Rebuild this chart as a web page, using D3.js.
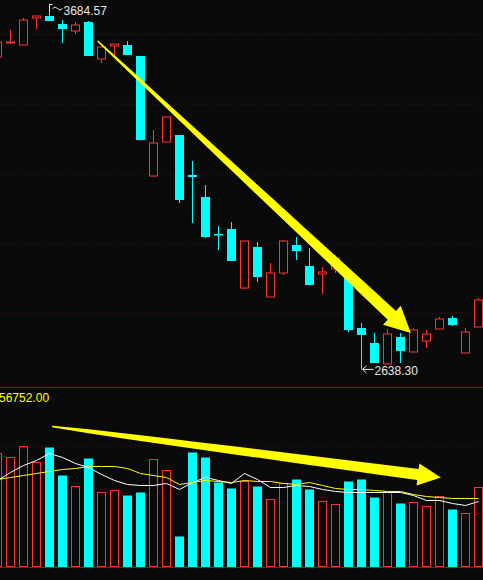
<!DOCTYPE html>
<meta charset="utf-8">
<script src="https://d3js.org/d3.v7.min.js"></script>
<style>
  body { margin: 0; background: #0a0a0a; }
  svg { display: block; }
</style>
<div id="chart"></div>
<script>

// daily bars, left to right
var open  = [3534.0, 3574.2, 3568.5, 3645.9, 3651.6, 3628.7, 3608.6, 3634.4, 3528.3, 3565.6,
             3568.5, 3536.9, 3192.8, 3290.3, 3310.4, 3195.7, 3132.6, 3026.5, 3040.9, 2871.7,
             2989.2, 2845.9, 2914.7, 2995.0, 2934.8, 2911.8, 2926.2, 2900.4, 2757.0, 2714.0,
             2653.8, 2731.2, 2688.2, 2719.7, 2754.1, 2785.7, 2685.3, 2759.9];
var high  = [3582.8, 3611.5, 3645.9, 3651.6, 3684.57, 3640.1, 3634.4, 3637.3, 3562.7, 3571.3,
             3579.9, 3536.9, 3324.7, 3362.0, 3310.4, 3235.8, 3167.0, 3049.5, 3060.9, 3006.5,
             3003.6, 2943.4, 3009.3, 3017.9, 2986.4, 2931.9, 2966.3, 2923.3, 2771.3, 2742.6,
             2754.1, 2742.6, 2757.0, 2751.3, 2788.5, 2791.4, 2757.0, 2843.0];
var low   = [3531.2, 3571.3, 3568.5, 3614.3, 3637.3, 3574.2, 3600.0, 3536.9, 3516.8, 3539.8,
             3539.8, 3296.1, 3190.0, 3290.3, 3115.4, 3058.1, 3015.0, 2980.6, 2949.1, 2868.8,
             2888.9, 2845.9, 2908.9, 2952.0, 2880.3, 2854.5, 2914.7, 2745.5, 2638.30, 2656.6,
             2653.8, 2656.6, 2688.2, 2699.6, 2754.1, 2762.7, 2685.3, 2759.9];
var close = [3577.1, 3577.1, 3640.1, 3651.6, 3637.3, 3614.3, 3625.8, 3536.9, 3562.7, 3571.3,
             3539.8, 3296.1, 3287.5, 3362.0, 3124.0, 3190.0, 3017.9, 3023.7, 2949.1, 3006.5,
             2903.2, 2914.7, 3006.5, 2977.8, 2880.3, 2917.6, 2957.7, 2751.3, 2736.9, 2656.6,
             2739.8, 2691.0, 2751.3, 2739.8, 2782.8, 2765.6, 2745.5, 2837.3];

var volume = [3736, 3603, 3967, 3438, 3934, 3008, 2645, 3570, 2446, 2512,
              2347, 2446, 3537, 3174, 992, 3769, 3603, 2777, 2579, 2810,
              2645, 2215, 2744, 2876, 2546, 2149, 2050, 2810, 2876, 2281,
              2479, 2083, 2116, 1983, 2314, 1884, 1752, 2612];
var volMa5  = [2843, 3108, 3339, 3504, 3736, 3604, 3405, 3273, 3042, 2843,
               2711, 2678, 2678, 2744, 2546, 2777, 2942, 2843, 2744, 3075,
               2876, 2612, 2612, 2678, 2645, 2546, 2480, 2446, 2446, 2446,
               2446, 2446, 2347, 2182, 2182, 2083, 2017, 2149];
var volMa10 = [2876, 2942, 3008, 3075, 3141, 3207, 3240, 3306, 3306, 3306,
               3240, 3075, 3008, 2942, 2711, 2777, 2843, 2810, 2777, 2843,
               2810, 2810, 2744, 2711, 2777, 2678, 2579, 2546, 2546, 2513,
               2480, 2480, 2380, 2314, 2281, 2248, 2248, 2248];

var priceTicks = [2800, 3000, 3200, 3400, 3600];
var volTicks = [4000];
var volTitle = "56752.00";

// hand-drawn trend arrows: [bar index, value]
var priceArrow = [[7.7, 3580.0], [31.8, 2742.6]];
var volArrow   = [[4.2, 4628], [34.1, 2942]];

var width = 483, height = 580;
var bg = "#0a0a0a", up = "#ff3232", down = "#00ffff";

var svg = d3.select("#chart").append("svg")
  .attr("width", width).attr("height", height);

svg.append("rect").attr("width", width).attr("height", height).attr("fill", bg);

var x = d3.scaleLinear().domain([0, 37]).range([-2.5, 478.5]);
var y = d3.scaleLinear().domain([2800, 3600]).range([313, 34]);
var yv = d3.scaleLinear().domain([0, 4000]).range([566.5, 445.5]);

// grid
svg.append("g")
  .call(d3.axisRight(y).tickValues(priceTicks).tickSize(width).tickFormat(""))
  .call(function(g) {
    g.select(".domain").remove();
    g.selectAll("line").attr("stroke", "#461414").attr("stroke-dasharray", "1,2");
  });
svg.append("g")
  .call(d3.axisRight(yv).tickValues(volTicks).tickSize(width).tickFormat(""))
  .call(function(g) {
    g.select(".domain").remove();
    g.selectAll("line").attr("stroke", "#461414").attr("stroke-dasharray", "1,2");
  });

// panel borders
svg.append("line").attr("x1", 0).attr("x2", width).attr("y1", 387.5).attr("y2", 387.5)
  .attr("stroke", "#b00000");
svg.append("line").attr("x1", 0).attr("x2", width).attr("y1", 567.5).attr("y2", 567.5)
  .attr("stroke", "#b00000");

var bars = d3.range(open.length);

// candles
var candle = svg.append("g").selectAll("g").data(bars).enter().append("g");

candle.each(function(i) {
  var g = d3.select(this);
  var cx = x(i);
  var top = y(Math.max(open[i], close[i])), bot = y(Math.min(open[i], close[i]));
  if (close[i] >= open[i]) {
    g.append("line").attr("x1", cx).attr("x2", cx).attr("y1", y(high[i])).attr("y2", top)
      .attr("stroke", up);
    g.append("line").attr("x1", cx).attr("x2", cx).attr("y1", bot).attr("y2", y(low[i]))
      .attr("stroke", up);
    g.append("rect").attr("x", cx - 4).attr("width", 8)
      .attr("y", top).attr("height", Math.max(1, bot - top))
      .attr("fill", bg).attr("stroke", up);
  } else {
    g.append("line").attr("x1", cx).attr("x2", cx).attr("y1", y(high[i])).attr("y2", y(low[i]))
      .attr("stroke", down);
    g.append("rect").attr("x", cx - 4.5).attr("width", 9)
      .attr("y", top).attr("height", Math.max(1.5, bot - top))
      .attr("fill", down);
  }
});

// volume bars
svg.append("g").selectAll("rect").data(bars).enter().append("rect")
  .each(function(i) {
    var r = d3.select(this);
    var cx = x(i);
    if (close[i] >= open[i]) {
      r.attr("x", cx - 4).attr("width", 8)
        .attr("y", yv(volume[i])).attr("height", yv(0) - yv(volume[i]))
        .attr("fill", bg).attr("stroke", up);
    } else {
      r.attr("x", cx - 4.5).attr("width", 9)
        .attr("y", yv(volume[i])).attr("height", yv(0) - yv(volume[i]) + 0.5)
        .attr("fill", down);
    }
  });

// volume averages
var vline = d3.line().x(function(d, i) { return x(i); }).y(function(d) { return yv(d); });
svg.append("path").datum(volMa10).attr("d", vline)
  .attr("fill", "none").attr("stroke", "#ffff00").attr("stroke-width", 1);
svg.append("path").datum(volMa5).attr("d", vline)
  .attr("fill", "none").attr("stroke", "#ffffff").attr("stroke-width", 1);

// tapered arrow polygon
function taperArrow(a, b, w0, w1, k, headLen, headHalf) {
  var dx = b[0] - a[0], dy = b[1] - a[1];
  var len = Math.sqrt(dx * dx + dy * dy);
  var ux = dx / len, uy = dy / len, px = -uy, py = ux;
  var shaft = len - headLen;
  var left = [], right = [];
  d3.range(0, 1.0001, 0.1).forEach(function(t) {
    var w = w0 + (w1 - w0) * Math.pow(t, k);
    var cx = a[0] + ux * shaft * t, cy = a[1] + uy * shaft * t;
    left.push([cx + px * w, cy + py * w]);
    right.unshift([cx - px * w, cy - py * w]);
  });
  var bx = a[0] + ux * shaft, by = a[1] + uy * shaft;
  var pts = left.concat([[bx + px * headHalf, by + py * headHalf], b,
                         [bx - px * headHalf, by - py * headHalf]], right);
  return "M" + pts.map(function(p) { return p[0].toFixed(1) + "," + p[1].toFixed(1); }).join("L") + "Z";
}

svg.append("path")
  .attr("d", taperArrow([x(priceArrow[0][0]), y(priceArrow[0][1])],
                        [x(priceArrow[1][0]), y(priceArrow[1][1])], 0.8, 6, 0.9, 26, 13))
  .attr("fill", "#ffff00");
svg.append("path")
  .attr("d", taperArrow([x(volArrow[0][0]), yv(volArrow[0][1])],
                        [x(volArrow[1][0]), yv(volArrow[1][1])], 0.8, 5.5, 0.6, 23, 11))
  .attr("fill", "#ffff00");

// high / low labels
var hi = d3.maxIndex(high), lo = d3.minIndex(low);
var hx = x(hi), hy = y(high[hi]);
svg.append("path")
  .attr("d", "M" + hx + "," + (hy + 7) + "V" + hy + "H" + (hx + 3) +
             "M" + (hx + 3) + "," + (hy + 4) + "q2.5,-3 5,0t5,0")
  .attr("fill", "none").attr("stroke", "#e8e8e8");
svg.append("text").attr("x", hx + 14).attr("y", hy + 10.5)
  .attr("font-family", "Liberation Sans, Arial, sans-serif").attr("font-size", 12)
  .attr("fill", "#e8e8e8").text(d3.format(".2f")(high[hi]));

var lx = x(lo), ly = y(low[lo]);
svg.append("path")
  .attr("d", "M" + (lx + 12) + "," + ly + "H" + (lx + 1) +
             "M" + (lx + 5) + "," + (ly - 3.5) + "L" + (lx + 1) + "," + ly + "L" + (lx + 5) + "," + (ly + 3.5))
  .attr("fill", "none").attr("stroke", "#e8e8e8");
svg.append("text").attr("x", lx + 13).attr("y", ly + 5.5)
  .attr("font-family", "Liberation Sans, Arial, sans-serif").attr("font-size", 12)
  .attr("fill", "#e8e8e8").text(d3.format(".2f")(low[lo]));

// volume panel title
svg.append("text").attr("x", -1).attr("y", 402)
  .attr("font-family", "Liberation Sans, Arial, sans-serif").attr("font-size", 12)
  .attr("fill", "#ffff00").text(volTitle);

</script>
